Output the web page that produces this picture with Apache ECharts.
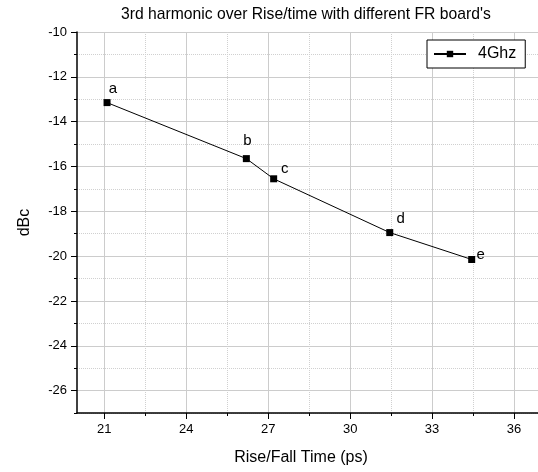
<!DOCTYPE html>
<html>
<head>
<meta charset="utf-8">
<script src="https://cdn.jsdelivr.net/npm/echarts@6/dist/echarts.min.js"></script>
<style>
  html, body { margin: 0; padding: 0; background: #fff; }
  #chart { width: 538px; height: 472px; }
</style>
</head>
<body>
<div id="chart"></div>
<script>
// data
const riseTimes = [21.1, 26.2, 27.2, 31.45, 34.45];
const dbcValues = [-13.15, -15.65, -16.55, -18.95, -20.15];
const pointNames = ['a', 'b', 'c', 'd', 'e'];
const seriesName = '4Ghz';

// tick labels
const xMajorTicks = [21, 24, 27, 30, 33, 36];
const xMinorTicks = [22.5, 25.5, 28.5, 31.5, 34.5, 37.5];
const yMajorTicks = [-26, -24, -22, -20, -18, -16, -14, -12, -10];
const yMinorTicks = [-27, -25, -23, -21, -19, -17, -15, -13, -11];

// where each letter sits relative to its marker
const labelOffsets = [[6, 0], [1, -4], [11, 4], [11, 0], [9, 9]];

const chart = echarts.init(document.getElementById('chart'));
const font = '"Liberation Sans", Arial, sans-serif';

const baseAxis = {
  type: 'value',
  axisLine: { show: true, onZero: false, lineStyle: { color: '#000', width: 1.5 } },
  axisTick: { show: true, inside: false, length: 6, lineStyle: { color: '#000' } },
  axisLabel: { fontSize: 13, color: '#000', margin: 10, fontFamily: font },
  splitLine: { show: true, lineStyle: { color: '#cccccc', width: 1 } }
};

// second axis only carries the short ticks and dotted grid
const minorAxis = {
  type: 'value',
  axisLine: { show: false },
  axisTick: { show: true, inside: false, length: 3, lineStyle: { color: '#000' } },
  axisLabel: { show: false },
  splitLine: { show: true, lineStyle: { color: '#d0d0d0', width: 1, type: [1, 1] } }
};

const option = {
  backgroundColor: '#fff',
  animation: false,
  title: {
    text: "3rd harmonic over Rise/time with different FR board's",
    left: 116,
    top: 2,
    textStyle: { fontSize: 15.7, fontWeight: 'normal', color: '#000', fontFamily: font }
  },
  legend: {
    data: [seriesName],
    left: 427,
    top: 40,
    padding: [6, 9, 6, 6],
    borderColor: '#000',
    borderWidth: 1,
    backgroundColor: '#fff',
    itemWidth: 32,
    itemHeight: 8,
    textStyle: { fontSize: 16, color: '#000', fontFamily: font, padding: [0, 0, 0, 7] }
  },
  grid: { left: 77, width: 478, top: 32, bottom: 59, outerBoundsMode: 'none', containLabel: false },
  xAxis: [
    Object.assign({}, minorAxis, {
      min: 20, max: 37.5, position: 'bottom',
      axisTick: Object.assign({}, minorAxis.axisTick, { customValues: xMinorTicks })
    }),
    Object.assign({}, baseAxis, {
      min: 20, max: 37.5, position: 'bottom',
      name: 'Rise/Fall Time (ps)',
      nameLocation: 'middle',
      nameGap: 37,
      nameTextStyle: { fontSize: 16, color: '#000', fontFamily: font, padding: [0, 30, 0, 0] },
      axisTick: Object.assign({}, baseAxis.axisTick, { customValues: xMajorTicks }),
      axisLabel: Object.assign({}, baseAxis.axisLabel, { customValues: xMajorTicks })
    })
  ],
  yAxis: [
    Object.assign({}, minorAxis, {
      min: -27, max: -10, position: 'left',
      axisTick: Object.assign({}, minorAxis.axisTick, { customValues: yMinorTicks })
    }),
    Object.assign({}, baseAxis, {
      min: -27, max: -10, position: 'left',
      name: 'dBc',
      nameLocation: 'middle',
      nameGap: 44,
      nameTextStyle: { fontSize: 16, color: '#000', fontFamily: font },
      axisTick: Object.assign({}, baseAxis.axisTick, { customValues: yMajorTicks }),
      axisLabel: Object.assign({}, baseAxis.axisLabel, { customValues: yMajorTicks })
    })
  ],
  series: [
    {
      name: seriesName,
      type: 'line',
      xAxisIndex: 1,
      yAxisIndex: 1,
      symbol: 'rect',
      symbolSize: 7,
      lineStyle: { color: '#000', width: 1 },
      itemStyle: { color: '#000' },
      label: {
        show: true,
        position: 'top',
        distance: 3,
        fontSize: 15,
        color: '#000',
        fontFamily: font,
        formatter: p => pointNames[p.dataIndex]
      },
      data: riseTimes.map((x, i) => ({
        value: [x, dbcValues[i]],
        label: { offset: labelOffsets[i] }
      }))
    }
  ]
};

chart.setOption(option);
</script>
</body>
</html>
